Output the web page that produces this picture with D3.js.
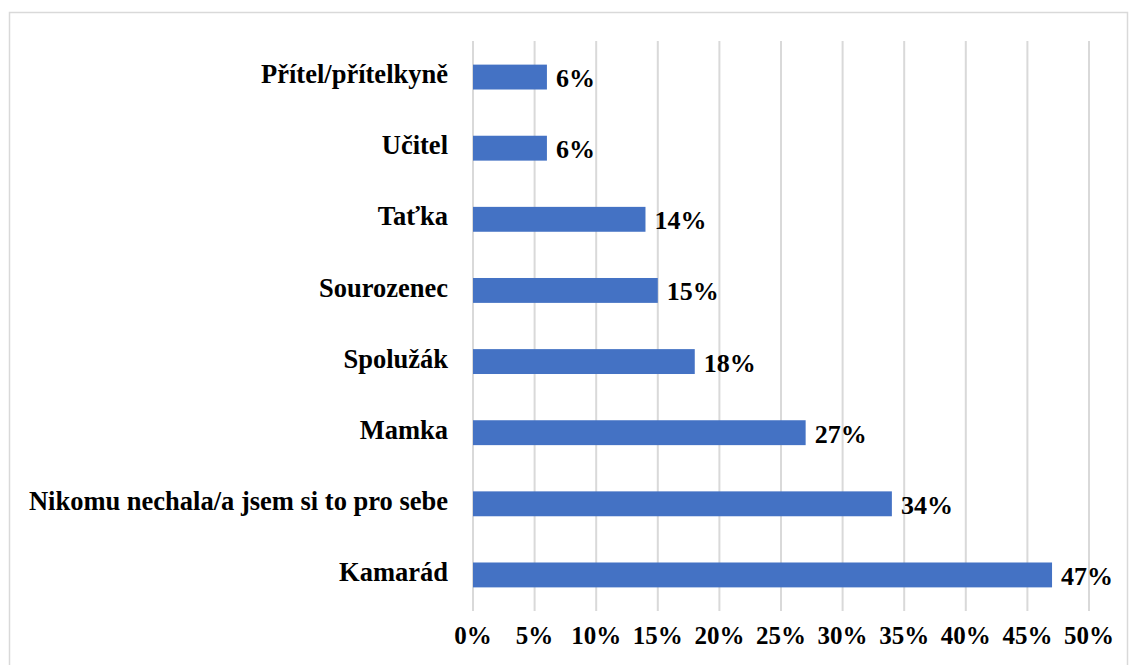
<!DOCTYPE html>
<html><head><meta charset="utf-8">
<script src="https://cdn.jsdelivr.net/npm/d3@7"></script>
<style>body{margin:0;background:#fff}svg{display:block}text{font-family:"Liberation Serif","Times New Roman",serif;font-weight:bold;fill:#000}</style>
</head><body><svg id="c" width="1130" height="665"></svg>
<script>
const categories = ["Přítel/přítelkyně","Učitel","Taťka","Sourozenec","Spolužák","Mamka","Nikomu nechala/a jsem si to pro sebe","Kamarád"];
const values = [6,6,14,15,18,27,34,47];
const ticks = [0,5,10,15,20,25,30,35,40,45,50];

const svg = d3.select("#c");
svg.append("rect").attr("x",9.5).attr("y",12.5).attr("width",1118).attr("height",680)
  .attr("fill","#fff").attr("stroke","#d9d9d9").attr("stroke-width",1.5);

const x = d3.scaleLinear().domain([0,50]).range([473,1089]);
const y = d3.scaleBand().domain(categories).range([41.5,610.5]).paddingInner(0.65).paddingOuter(0.325);

svg.append("g").selectAll("line").data(ticks).join("line")
  .attr("x1",d=>x(d)).attr("x2",d=>x(d)).attr("y1",41).attr("y2",611)
  .attr("stroke","#d9d9d9").attr("stroke-width",2);

svg.append("g").selectAll("rect").data(values).join("rect")
  .attr("x",x(0)).attr("y",(d,i)=>y(categories[i]))
  .attr("width",d=>x(d)-x(0)).attr("height",y.bandwidth())
  .attr("fill","#4472c4");

svg.append("g").selectAll("text").data(values).join("text")
  .attr("x",d=>x(d)+9).attr("y",(d,i)=>y(categories[i])+y.bandwidth()/2+4)
  .attr("dominant-baseline","middle").attr("font-size",26).text(d=>d+"%");

svg.append("g").selectAll("text").data(categories).join("text")
  .attr("x",448).attr("y",d=>y(d)+y.bandwidth()/2)
  .attr("text-anchor","end").attr("dominant-baseline","middle").attr("font-size",26.5).text(d=>d);

svg.append("g").selectAll("text").data(ticks).join("text")
  .attr("x",d=>x(d)).attr("y",638).attr("text-anchor","middle")
  .attr("dominant-baseline","middle").attr("font-size",25).text(d=>d+"%");
</script></body></html>
